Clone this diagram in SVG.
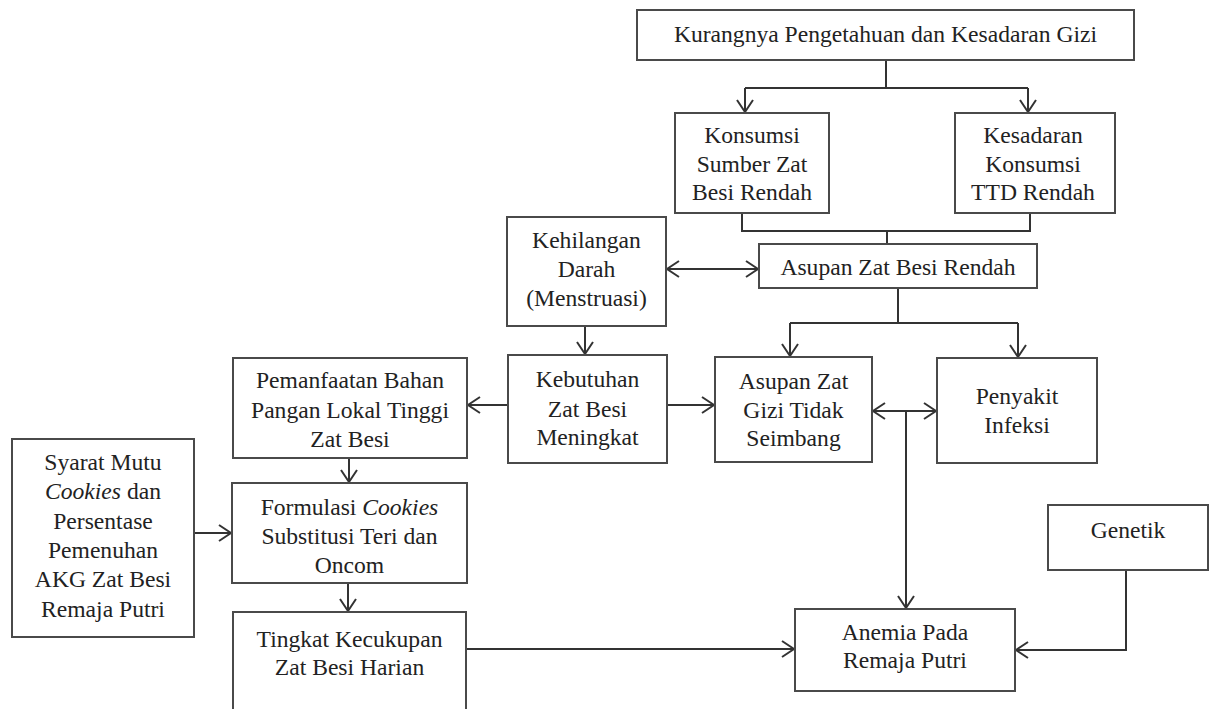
<svg xmlns="http://www.w3.org/2000/svg" width="1211" height="709" viewBox="0 0 1211 709">
<style>
.box{fill:#fff;stroke:#4a4a4a;stroke-width:2}
.t{font-family:"Liberation Serif","Times New Roman",serif;font-size:23.6px;fill:#222;text-anchor:middle}
.c{fill:none;stroke:#333;stroke-width:2}
.a{marker-end:url(#ah)}
.d{marker-start:url(#ah);marker-end:url(#ah)}
</style>
<defs>
<marker id="ah" viewBox="-14 -10 16 20" refX="0" refY="0" markerWidth="16" markerHeight="20" markerUnits="userSpaceOnUse" orient="auto-start-reverse">
<path d="M-12,-8 L0,0 L-12,8" fill="none" stroke="#333" stroke-width="2"/>
</marker>
</defs>
<rect width="1211" height="709" fill="#fff"/>
<g id="connectors">
<path class="c" d="M886,60 V88 M745,88 H1028"/>
<path class="c a" d="M745,88 V112"/>
<path class="c a" d="M1028,88 V112"/>
<path class="c" d="M742,213 V231 H1030 V213 M887,231 V244"/>
<path class="c d" d="M667,269 H758"/>
<path class="c a" d="M585,326 V354"/>
<path class="c" d="M898,288 V323 M790,323 H1018"/>
<path class="c a" d="M790,323 V356"/>
<path class="c a" d="M1018,323 V357"/>
<path class="c a" d="M508,405 H468"/>
<path class="c a" d="M667,405 H714"/>
<path class="c d" d="M873,411 H936"/>
<path class="c a" d="M906,411 V608"/>
<path class="c a" d="M349,458 V482"/>
<path class="c a" d="M194,533 H231"/>
<path class="c a" d="M348,583 V611"/>
<path class="c a" d="M466,649 H794"/>
<path class="c a" d="M1126,570 V650 H1016"/>
</g>
<g id="n-kurangnya">
<rect class="box" x="637" y="10" width="497" height="50"/>
<text class="t" x="885.5" y="42">Kurangnya Pengetahuan dan Kesadaran Gizi</text>
</g>
<g id="n-konsumsi">
<rect class="box" x="675" y="113" width="154" height="100"/>
<text class="t" x="752" y="143">Konsumsi</text>
<text class="t" x="752" y="172">Sumber Zat</text>
<text class="t" x="752" y="200">Besi Rendah</text>
</g>
<g id="n-kesadaran">
<rect class="box" x="955" y="113" width="160" height="100"/>
<text class="t" x="1033" y="143">Kesadaran</text>
<text class="t" x="1033" y="172">Konsumsi</text>
<text class="t" x="1033" y="200">TTD Rendah</text>
</g>
<g id="n-kehilangan">
<rect class="box" x="507" y="217" width="159" height="109"/>
<text class="t" x="586.5" y="248">Kehilangan</text>
<text class="t" x="586.5" y="277">Darah</text>
<text class="t" x="586.5" y="306">(Menstruasi)</text>
</g>
<g id="n-asupan-besi">
<rect class="box" x="759" y="244" width="278" height="44"/>
<text class="t" x="898" y="275">Asupan Zat Besi Rendah</text>
</g>
<g id="n-pemanfaatan">
<rect class="box" x="233" y="358" width="234" height="100"/>
<text class="t" x="350" y="388">Pemanfaatan Bahan</text>
<text class="t" x="350" y="418">Pangan Lokal Tinggi</text>
<text class="t" x="350" y="447">Zat Besi</text>
</g>
<g id="n-kebutuhan">
<rect class="box" x="508" y="355" width="159" height="108"/>
<text class="t" x="587.5" y="387">Kebutuhan</text>
<text class="t" x="587.5" y="417">Zat Besi</text>
<text class="t" x="587.5" y="445">Meningkat</text>
</g>
<g id="n-asupan-gizi">
<rect class="box" x="715" y="357" width="157" height="105"/>
<text class="t" x="793.5" y="389">Asupan Zat</text>
<text class="t" x="793.5" y="418">Gizi Tidak</text>
<text class="t" x="793.5" y="446">Seimbang</text>
</g>
<g id="n-penyakit">
<rect class="box" x="937" y="358" width="160" height="105"/>
<text class="t" x="1017" y="404">Penyakit</text>
<text class="t" x="1017" y="433">Infeksi</text>
</g>
<g id="n-syarat">
<rect class="box" x="12" y="439" width="182" height="198"/>
<text class="t" x="103" y="470">Syarat Mutu</text>
<text class="t" x="103" y="499"><tspan font-style="italic">Cookies</tspan> dan</text>
<text class="t" x="103" y="529">Persentase</text>
<text class="t" x="103" y="558">Pemenuhan</text>
<text class="t" x="103" y="587">AKG Zat Besi</text>
<text class="t" x="103" y="617">Remaja Putri</text>
</g>
<g id="n-formulasi">
<rect class="box" x="232" y="483" width="235" height="100"/>
<text class="t" x="349.5" y="515">Formulasi <tspan font-style="italic">Cookies</tspan></text>
<text class="t" x="349.5" y="544">Substitusi Teri dan</text>
<text class="t" x="349.5" y="573">Oncom</text>
</g>
<g id="n-tingkat">
<rect class="box" x="233" y="612" width="233" height="110"/>
<text class="t" x="349.5" y="647">Tingkat Kecukupan</text>
<text class="t" x="349.5" y="675">Zat Besi Harian</text>
</g>
<g id="n-anemia">
<rect class="box" x="795" y="609" width="220" height="82"/>
<text class="t" x="905" y="640">Anemia Pada</text>
<text class="t" x="905" y="668">Remaja Putri</text>
</g>
<g id="n-genetik">
<rect class="box" x="1048" y="505" width="160" height="65"/>
<text class="t" x="1128" y="538">Genetik</text>
</g>
</svg>
